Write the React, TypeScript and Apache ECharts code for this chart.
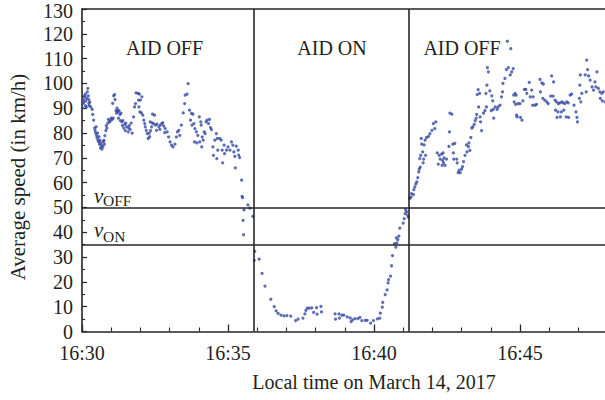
import { useEffect, useRef } from "react";
import * as echarts from "echarts";

// Time values are seconds after 16:30:00, speeds in km/h
const startHour = 16;
const startMinute = 30;
const lastLabelledTime = 900;
const yMax = 130;
const switchTimes = [353, 672];
const vOff = 50;
const vOn = 35;
const phaseLabels = ["AID OFF", "AID ON", "AID OFF"];
const xAxisTitle = "Local time on March 14, 2017";
const yAxisTitle = "Average speed (in km/h)";

const aidOffBefore: [number, number][] = [
  [1, 90], [2, 92], [3, 93.5], [4, 92.5], [5, 95], [6, 94.6], [7, 95.7], [7, 91], [8, 93], [9, 90.5],
  [10, 94], [11, 96.6], [12, 98], [13, 95], [14, 92], [14, 93.5], [15, 91], [16, 92.5], [18, 90.5],
  [21, 89.5], [22, 87.5], [24, 85.2], [26, 82], [27, 81], [28, 80], [29, 82.5], [30, 79], [31, 78],
  [32, 80], [33, 77], [34, 76.5], [35, 78.5], [36, 75.5], [37, 77], [38, 74], [39, 76], [40, 75],
  [41, 73.5], [43, 74.5], [44, 76.5], [45, 77], [46, 75.5], [47, 79], [49, 81], [50, 83], [51, 82],
  [53, 84], [54, 85.5], [57, 84.5], [58, 85], [60, 86], [62, 85.5], [63, 92], [64, 86], [65, 95],
  [67, 95.5], [68, 93.5], [70, 89], [71, 88], [72, 90], [73, 89], [74, 88.5], [75, 86], [76, 89],
  [78, 87.5], [79, 85], [80, 88], [82, 84.5], [83, 83], [84, 85], [86, 82], [88, 83.5], [89, 81],
  [90, 84], [92, 82.5], [95, 80.5], [96, 82], [97, 83], [99, 81.5], [101, 84], [103, 80], [106, 86.5],
  [108, 90.5], [110, 91.9], [111, 96.2], [115, 96], [116, 93.3], [117, 90.5], [118, 95.7], [119, 88.5],
  [120, 93.3], [122, 88.1], [123, 94.6], [125, 87.2], [127, 85.2], [129, 83.8], [130, 82.5], [132, 81.1],
  [134, 79.8], [136, 77.8], [138, 80], [139, 78.5], [140, 84.5], [141, 81], [143, 82.5], [144, 84.1],
  [145, 87.6], [147, 83.8], [149, 87.2], [151, 83.2], [153, 81.1], [154, 83.6], [158, 82.5], [160, 81.5],
  [161, 83.2], [164, 83.8], [166, 84.1], [168, 82.8], [170, 80.2], [171, 81.8], [175, 80.5], [178, 78.4],
  [181, 76.4], [184, 75.1], [187, 74.4], [191, 75.5], [194, 78.4], [196, 80.5], [199, 81.1], [201, 79.1],
  [204, 83.2], [208, 88.1], [211, 91.9], [212, 95.3], [216, 95.7], [218, 99.9], [221, 89.2], [223, 85.2],
  [225, 87.9], [226, 83.2], [228, 87.6], [230, 83.8], [231, 76.4], [232, 81.8], [235, 80.5], [236, 76],
  [238, 79.1], [241, 86.5], [242, 76.4], [244, 84.5], [245, 83.2], [246, 74.4], [247, 78.4], [249, 77.1],
  [251, 80.5], [253, 79.8], [255, 84.5], [257, 85.2], [260, 83.8], [262, 85.5], [264, 82.2], [266, 81.4],
  [269, 74.4], [270, 71], [273, 77.1], [276, 79.8], [277, 69.7], [278, 77.8], [279, 73.1], [283, 77.8],
  [286, 77.1], [288, 73.1], [289, 68], [292, 75.1], [293, 71.7], [297, 73.1], [300, 74.4], [304, 73.1],
  [307, 76.4], [310, 75.1], [312, 72.4], [314, 70.6], [315, 66], [317, 74.7], [321, 73.1], [322, 71.1],
  [324, 70.1], [328, 61], [329, 54.5], [330, 54], [331, 44.8], [332, 39], [333, 49], [341, 51],
  [345, 49.7], [351, 46.4],
];

const aidOn: [number, number][] = [
  [354, 28.7], [355, 32.3], [364, 29.2], [370, 23.4], [376, 18.3], [388, 13], [395, 10], [399, 8.3],
  [403, 7.3], [409, 6.6], [415, 6.3], [421, 6.4], [429, 6.2], [439, 4.4], [444, 5], [454, 5.4],
  [458, 7.1], [460, 8.5], [463, 9.4], [467, 9.4], [472, 9.5], [476, 7.7], [482, 9.6], [483, 7],
  [491, 10.1], [492, 7.9], [520, 7.1], [521, 5], [528, 7.1], [529, 5.4], [534, 6.6], [538, 6.6],
  [545, 5.9], [551, 5.5], [553, 4], [556, 4.7], [561, 5.2], [567, 5.2], [571, 5.7], [575, 4.4],
  [582, 4.5], [586, 4.5], [593, 3.4], [599, 4.4], [607, 5.1], [612, 5.4], [613, 7.4], [617, 9.8],
  [618, 11.7], [623, 14.9], [627, 16.8], [629, 19.6], [630, 20.9], [634, 22.3], [636, 26.5], [638, 30.6],
  [642, 35.4], [645, 34], [646, 37.7], [647, 35.7], [649, 37], [651, 38.4], [653, 41.7], [660, 43.7],
  [662, 45.5], [664, 47.5], [665, 49.1], [667, 48.2], [669, 46.8], [671, 46],
];

const aidOffAfter: [number, number][] = [
  [673, 53.6], [674, 54], [676, 54.2], [677, 55.6], [681, 55.2], [682, 57.2], [684, 58.3], [686, 59.5],
  [688, 60.3], [690, 62], [692, 64.3], [693, 65.5], [694, 69.7], [695, 66.3], [696, 71], [697, 77.8],
  [698, 75.5], [700, 72.4], [701, 68], [702, 69.5], [703, 75.2], [705, 77.1], [706, 71], [708, 78.2],
  [712, 78.7], [715, 79.8], [719, 81.1], [722, 83.8], [725, 81.8], [727, 84.5], [730, 72], [732, 67.5],
  [734, 71], [736, 69.5], [739, 71.5], [740, 67], [741, 69], [742, 72], [743, 68], [744, 70], [746, 67],
  [749, 69.5], [754, 74.6], [755, 80.5], [756, 88], [760, 87.6], [762, 75.5], [763, 72], [764, 69.5],
  [766, 75.8], [770, 69.5], [771, 68], [773, 64], [775, 65], [777, 64], [780, 65.5], [782, 66.5],
  [784, 68.5], [787, 71], [790, 75.2], [791, 72.4], [794, 74.5], [795, 76], [797, 73], [799, 78.2],
  [801, 82], [803, 82.5], [806, 83.5], [808, 85], [810, 86], [811, 87.5], [812, 95.5], [814, 97.5],
  [815, 90.5], [817, 96], [818, 86.5], [819, 84.5], [821, 81], [825, 88], [828, 89], [830, 96],
  [831, 90.5], [832, 99.3], [833, 106.4], [835, 104.7], [838, 97], [841, 89], [842, 95], [844, 93],
  [845, 89.5], [846, 86], [849, 90.5], [853, 89.5], [855, 90.5], [859, 91.2], [862, 94.6], [864, 96.6],
  [865, 100], [869, 102], [872, 105.6], [874, 117], [876, 106.4], [880, 103.4], [881, 114], [883, 104.7],
  [886, 106], [887, 95.3], [888, 92.6], [890, 96], [891, 91.6], [892, 95.3], [893, 87.2], [894, 86.5],
  [896, 91.9], [900, 91.9], [901, 86.3], [904, 85.2], [906, 93], [909, 97.6], [912, 97.6], [914, 96],
  [919, 100.4], [921, 94.6], [924, 97.3], [926, 91.2], [927, 94.6], [931, 91.2], [934, 91.6], [941, 101.6],
  [942, 96.6], [945, 100.2], [947, 94], [948, 99.7], [951, 93.3], [955, 92.6], [958, 91.9], [963, 94.9],
  [965, 103], [968, 94.9], [969, 100.6], [972, 93.3], [973, 89.2], [975, 92.6], [976, 86.3], [978, 88.5],
  [979, 91.9], [982, 92.2], [983, 86.5], [985, 88.5], [986, 92.6], [989, 92.2], [990, 89.2], [992, 91.9],
  [995, 86.5], [996, 92.6], [999, 92.2], [1000, 86.3], [1003, 95.3], [1006, 95.7], [1011, 91.2],
  [1015, 88.5], [1017, 86.3], [1018, 84.5], [1022, 94], [1023, 99.3], [1024, 103.4], [1025, 92.6],
  [1027, 96], [1034, 103.4], [1036, 96.6], [1037, 109.4], [1039, 105.6], [1041, 103], [1044, 101.3],
  [1048, 98.6], [1051, 97.3], [1054, 100.6], [1056, 98.6], [1058, 104.7], [1061, 98], [1064, 96.6],
  [1065, 94], [1068, 96], [1069, 93], [1071, 96.6], [1075, 92.6],
];

const FONT = '"Liberation Serif", "Times New Roman", serif';
const INK = "#231f20";
const LINE = "#262626";
const DOT = "#3448a2";

function fmtTime(v: number): string {
  if (v % 300 !== 0 || v > lastLabelledTime) return "";
  const total = startHour * 60 + startMinute + v / 60;
  const h = Math.floor(total / 60);
  const m = total % 60;
  return `${h}:${String(m).padStart(2, "0")}`;
}

export default function App() {
  const ref = useRef<HTMLDivElement>(null);
  useEffect(() => {
    if (!ref.current) return;
    const chart = echarts.init(ref.current, undefined, { renderer: "svg" });
    const textStyle = (text: string, size: number, extra: any = {}) => ({
      text,
      fontFamily: FONT,
      fontSize: size,
      fill: INK,
      align: "center",
      verticalAlign: "middle",
      ...extra,
    });
    chart.setOption({
      animation: false,
      grid: { left: 82, top: 9, width: 584, height: 322.5, outerBoundsMode: "none" },
      xAxis: [
        {
          type: "value",
          min: 0,
          max: 1200,
          interval: 300,
          position: "bottom",
          axisLine: { show: true, lineStyle: { color: LINE, width: 1.6 } },
          axisTick: { show: true, inside: true, length: 7, lineStyle: { color: LINE, width: 1.3 } },
          minorTick: { show: true, splitNumber: 5, length: 4, lineStyle: { color: LINE, width: 1.1 } },
          splitLine: { show: false },
          minorSplitLine: { show: false },
          axisLabel: { formatter: fmtTime, fontFamily: FONT, fontSize: 20, color: INK, margin: 11 },
          name: xAxisTitle,
          nameLocation: "middle",
          nameGap: 40,
          nameTextStyle: { fontFamily: FONT, fontSize: 20, color: INK },
        },
        {
          type: "value",
          min: 0,
          max: 1200,
          position: "top",
          axisLine: { show: true, lineStyle: { color: LINE, width: 1.6 } },
          axisTick: { show: false },
          axisLabel: { show: false },
          splitLine: { show: false },
        },
      ],
      yAxis: {
        type: "value",
        min: 0,
        max: yMax,
        interval: 10,
        axisLine: { show: true, lineStyle: { color: LINE, width: 1.6 } },
        axisTick: { show: true, inside: true, length: 5, lineStyle: { color: LINE, width: 1.2 } },
        minorTick: { show: true, splitNumber: 2, length: 3, lineStyle: { color: LINE, width: 1.1 } },
        splitLine: { show: false },
        minorSplitLine: { show: false },
        axisLabel: {
          fontFamily: FONT,
          fontSize: 20,
          lineHeight: 16,
          color: INK,
          margin: 9,
          formatter: (v: number) => (v === yMax ? `{t|${v}}` : `${v}`),
          rich: {
            t: { fontFamily: FONT, fontSize: 20, lineHeight: 16, color: INK, padding: [4, 0, 0, 0] },
          },
        },
      },
      series: [
        {
          type: "scatter",
          xAxisIndex: 0,
          data: [...aidOffBefore, ...aidOn, ...aidOffAfter],
          symbol: "circle",
          symbolSize: 3.2,
          itemStyle: { color: DOT },
          silent: true,
          markLine: {
            silent: true,
            symbol: ["none", "none"],
            label: { show: false },
            lineStyle: { color: LINE, width: 1.6, type: "solid" },
            data: [
              { xAxis: switchTimes[0] },
              { xAxis: switchTimes[1] },
              { yAxis: vOff },
              { yAxis: vOn },
            ],
          },
        },
      ],
      graphic: [
        { type: "text", x: 164.5, y: 48, style: textStyle(phaseLabels[0], 20) },
        { type: "text", x: 332, y: 48, style: textStyle(phaseLabels[1], 20) },
        { type: "text", x: 462, y: 48, style: textStyle(phaseLabels[2], 20) },
        { type: "text", x: 94, y: 196, style: textStyle("ν", 21, { align: "left", fontStyle: "italic" }) },
        { type: "text", x: 103, y: 200.5, style: textStyle("OFF", 15.5, { align: "left" }) },
        { type: "text", x: 94, y: 230, style: textStyle("ν", 21, { align: "left", fontStyle: "italic" }) },
        { type: "text", x: 103, y: 236, style: textStyle("ON", 15.5, { align: "left" }) },
        { type: "text", x: 18, y: 177, rotation: Math.PI / 2, style: textStyle(yAxisTitle, 21) },
      ],
    });
    return () => chart.dispose();
  }, []);
  return <div ref={ref} style={{ position: "absolute", left: 0, top: 0, width: 605, height: 400 }} />;
}
